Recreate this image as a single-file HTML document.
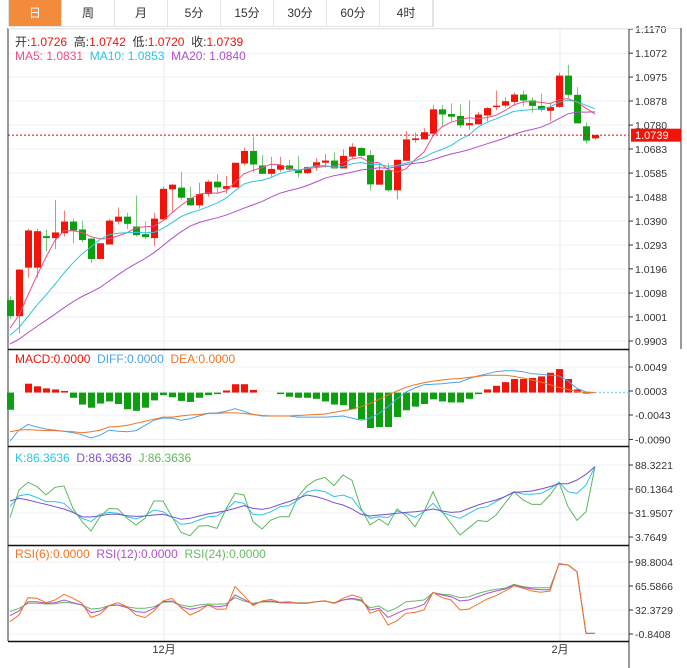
<!DOCTYPE html>
<html><head><meta charset="utf-8">
<style>
html,body{margin:0;padding:0;background:#fff;}
body{width:687px;height:668px;overflow:hidden;position:relative;font-family:"Liberation Sans","Noto Sans CJK SC",sans-serif;}
.tabs{position:absolute;left:8px;top:0;height:27px;display:flex;border:1px solid #e3e3e3;border-top:none;box-sizing:border-box;}
.tab{width:53px;height:26px;line-height:26px;text-align:center;font-size:12px;color:#333;border-right:1px solid #e3e3e3;box-sizing:border-box;}
.tab.on{background:#f38b3c;color:#fff;}
svg{position:absolute;left:0;top:0;}
</style></head><body>
<div class="tabs">
<div class="tab on">日</div>
<div class="tab">周</div>
<div class="tab">月</div>
<div class="tab">5分</div>
<div class="tab">15分</div>
<div class="tab">30分</div>
<div class="tab">60分</div>
<div class="tab">4时</div>
</div>
<svg id="chart" width="687" height="668"></svg>
<script>
const opens=[1.0069,1.0004,1.0201,1.0201,1.0329,1.0321,1.0341,1.0388,1.0356,1.0319,1.0236,1.0295,1.0388,1.0408,1.0368,1.0337,1.0321,1.0397,1.0519,1.0526,1.0484,1.0454,1.0500,1.0550,1.0521,1.0527,1.0624,1.0675,1.0616,1.0582,1.0599,1.0616,1.0597,1.0585,1.0610,1.0627,1.0636,1.0604,1.0652,1.0687,1.0658,1.0538,1.0597,1.0515,1.0635,1.0719,1.0722,1.0745,1.0844,1.0825,1.0817,1.0779,1.0783,1.0819,1.0856,1.0859,1.0874,1.0904,1.0880,1.0858,1.0838,1.0854,1.0981,1.0903,1.0775,1.0726];
const highs=[1.0085,1.0194,1.0359,1.0359,1.0355,1.0476,1.0433,1.0400,1.0392,1.0319,1.0300,1.0400,1.0446,1.0424,1.0494,1.0389,1.0424,1.0530,1.0540,1.0590,1.0530,1.0546,1.0558,1.0581,1.0574,1.0627,1.0688,1.0732,1.0658,1.0651,1.0651,1.0639,1.0654,1.0613,1.0646,1.0662,1.0668,1.0682,1.0706,1.0691,1.0678,1.0618,1.0625,1.0639,1.0756,1.0749,1.0767,1.0861,1.0861,1.0868,1.0864,1.0880,1.0833,1.0853,1.0920,1.0893,1.0912,1.0922,1.0893,1.0908,1.0872,1.0993,1.1025,1.0934,1.0791,1.0742];
const lows=[0.9992,0.9934,1.0160,1.0160,1.0267,1.0276,1.0327,1.0300,1.0304,1.0220,1.0236,1.0295,1.0376,1.0357,1.0327,1.0317,1.0288,1.0397,1.0426,1.0477,1.0452,1.0441,1.0489,1.0500,1.0502,1.0527,1.0616,1.0587,1.0582,1.0570,1.0590,1.0589,1.0567,1.0581,1.0594,1.0608,1.0604,1.0604,1.0644,1.0652,1.0515,1.0538,1.0511,1.0478,1.0635,1.0708,1.0722,1.0745,1.0775,1.0796,1.0769,1.0760,1.0783,1.0796,1.0840,1.0850,1.0858,1.0857,1.0830,1.0834,1.0796,1.0850,1.0890,1.0787,1.0705,1.0720];
const closes=[1.0004,1.0193,1.0352,1.0349,1.0321,1.0344,1.0388,1.0352,1.0313,1.0236,1.0300,1.0392,1.0408,1.0379,1.0333,1.0325,1.0400,1.0521,1.0538,1.0485,1.0454,1.0500,1.0550,1.0527,1.0532,1.0627,1.0675,1.0620,1.0582,1.0602,1.0617,1.0599,1.0585,1.0609,1.0629,1.0636,1.0604,1.0655,1.0692,1.0655,1.0539,1.0597,1.0515,1.0639,1.0722,1.0726,1.0751,1.0844,1.0823,1.0814,1.0779,1.0788,1.0823,1.0849,1.0859,1.0877,1.0904,1.0880,1.0858,1.0842,1.0853,1.0981,1.0903,1.0787,1.0717,1.0739];
const priorCloses=[0.980,0.982,0.984,0.983,0.985,0.986,0.987,0.988,0.989,0.991,0.988,0.990,0.989,0.991,0.991,0.993,0.994,0.995,0.9952];
const priceTicks=[1.1170,1.1072,1.0975,1.0878,1.0780,1.0683,1.0585,1.0488,1.0390,1.0293,1.0196,1.0098,1.0001,0.9903];
const lastPrice=1.0739;
const macdHist=[-0.0033,0,0.0017,0.0012,0.0008,0.0006,0.0003,-0.0010,-0.0023,-0.0029,-0.0021,-0.0017,-0.0022,-0.0032,-0.0035,-0.0029,-0.0015,-0.0005,-0.0009,-0.0016,-0.0018,-0.0010,-0.0005,-0.0003,0.0004,0.0016,0.0016,0.0005,0,0,-0.0003,-0.0008,-0.0010,-0.0010,-0.0012,-0.0017,-0.0023,-0.0024,-0.0032,-0.0051,-0.0068,-0.0066,-0.0066,-0.0047,-0.0034,-0.0027,-0.0022,-0.0013,-0.0017,-0.0019,-0.0019,-0.0012,-0.0003,0.0006,0.0013,0.0020,0.0026,0.0026,0.0028,0.0031,0.0038,0.0045,0.0026,0.0006,-0.0002,0];
const diffVals=[-0.0093,-0.0072,-0.0061,-0.0066,-0.0070,-0.0072,-0.0074,-0.0077,-0.0081,-0.0087,-0.0082,-0.0072,-0.0074,-0.0075,-0.0073,-0.0063,-0.0053,-0.0049,-0.0049,-0.0053,-0.0050,-0.0045,-0.0040,-0.0039,-0.0036,-0.0031,-0.0036,-0.0042,-0.0045,-0.0045,-0.0045,-0.0045,-0.0047,-0.0047,-0.0047,-0.0047,-0.0046,-0.0045,-0.0049,-0.0053,-0.0049,-0.0040,-0.0027,-0.0012,0.0001,0.0009,0.0015,0.0016,0.0017,0.0019,0.0020,0.0027,0.0032,0.0036,0.0040,0.0042,0.0042,0.0040,0.0036,0.0035,0.0033,0.0032,0.0022,0.0008,0.0001,0];
const deaVals=[-0.0075,-0.0072,-0.0071,-0.0072,-0.0073,-0.0073,-0.0074,-0.0075,-0.0077,-0.0075,-0.0072,-0.0066,-0.0065,-0.0063,-0.0059,-0.0055,-0.0051,-0.0047,-0.0047,-0.0045,-0.0043,-0.0042,-0.0040,-0.0040,-0.0039,-0.0039,-0.0040,-0.0042,-0.0044,-0.0045,-0.0045,-0.0045,-0.0044,-0.0043,-0.0042,-0.0041,-0.0038,-0.0035,-0.0032,-0.0027,-0.0021,-0.0013,-0.0005,0.0003,0.0010,0.0015,0.0019,0.0022,0.0024,0.0026,0.0027,0.0029,0.0031,0.0033,0.0033,0.0033,0.0031,0.0028,0.0024,0.0020,0.0015,0.0010,0.0006,0.0002,0,0];
const macdTicks=[0.0049,0.0003,-0.0043,-0.0090];
const kVals=[39.4,52.3,53.9,50.0,45.3,45.3,43.3,33.5,25.7,21.8,30.4,32.7,31.6,27.6,24.9,28.8,35.5,33.5,26.5,18.6,19.8,23.7,27.6,28.4,35.5,45.3,43.3,30.4,29.6,33.5,39.4,40.6,47.2,57.0,59.0,57.0,51.2,53.1,49.2,35.5,25.7,27.6,26.5,34.3,31.6,26.9,33.5,43.3,32.7,28.8,25.7,31.6,37.4,39.4,45.3,51.2,57.0,54.3,53.9,55.0,60.1,68.0,57.0,55.0,64.8,86.4];
const dVals=[46.0,49.2,47.2,44.5,42.1,39.4,36.6,32.7,27.6,27.3,28.8,30.4,30.4,28.8,28.0,28.4,29.6,30.4,27.6,24.5,25.7,28.4,30.8,32.7,34.7,37.4,40.6,37.4,36.2,38.2,42.1,45.3,49.2,53.1,51.2,48.0,44.1,41.3,36.6,30.4,28.4,29.6,30.4,31.6,32.7,33.5,34.7,36.6,34.3,32.7,33.5,37.4,41.3,44.5,47.2,51.2,56.2,57.0,57.8,60.1,62.9,66.4,66.4,70.7,77.4,86.4];
const jVals=[26.5,59.0,68.0,62.9,53.1,62.1,63.7,37.4,21.8,10.8,27.6,37.4,36.6,25.7,17.9,25.7,46.0,46.0,27.6,9.2,5.3,16.7,17.1,13.9,36.6,55.0,53.1,21.8,13.2,23.7,27.6,27.6,51.2,63.9,70.7,73.8,64.1,76.6,70.3,37.4,17.9,24.9,17.9,36.6,28.8,15.9,33.5,57.0,33.5,19.8,6.1,14.7,23.3,21.8,29.6,43.3,57.0,47.2,42.1,42.1,53.1,68.0,39.4,23.3,33.5,86.4];
const kdjTicks=[88.3221,60.1364,31.9507,3.7649];
const rsi6=[16.2,25.5,49.4,48.5,42.5,46.2,54.1,48.5,41.6,22.2,26.4,38.4,42.5,37.0,25.5,21.8,31.0,44.8,48.5,35.6,25.5,31.0,39.3,33.3,33.8,64.7,52.2,38.4,44.8,47.1,43.0,43.9,41.6,41.6,43.9,45.3,41.6,48.5,53.1,49.4,27.8,32.4,11.6,17.6,27.8,29.1,32.4,56.8,49.4,46.2,32.4,33.8,40.7,47.6,52.2,58.7,66.0,62.4,58.7,56.8,58.7,96.9,94.7,85.4,0,0];
const rsi12=[24.5,31.0,43.9,43.9,41.6,42.5,46.2,42.5,39.3,28.7,31.0,38.4,39.3,35.6,30.1,29.1,34.7,43.9,44.8,37.0,33.3,35.6,39.3,37.0,38.4,53.1,47.1,40.2,43.9,44.8,42.5,42.5,41.6,41.6,43.9,44.8,41.6,46.2,48.5,46.2,32.4,34.7,22.2,27.8,33.3,35.6,40.2,56.4,53.1,50.8,44.8,46.2,50.8,55.4,58.7,61.4,67.0,63.7,61.4,60.5,60.5,96.0,94.7,85.4,0,0];
const rsi24=[30.1,34.7,41.6,41.6,40.7,41.1,43.0,41.6,39.3,33.8,34.7,38.4,39.3,37.0,34.7,34.7,37.0,43.0,43.9,39.3,37.0,39.3,40.7,40.2,41.1,49.4,44.8,41.6,43.4,43.9,42.5,42.5,42.5,42.5,43.9,44.8,42.5,46.2,47.6,44.8,35.6,37.9,30.1,35.6,43.9,44.8,46.2,56.4,54.1,53.1,49.4,50.8,55.4,58.7,61.0,62.4,67.9,64.7,63.3,63.3,63.3,96.0,94.7,85.4,0,0];
const rsiTicks=[98.8004,65.5866,32.3729,-0.8408];
const monthLabels=["12月","2月"];
const monthIdx=[17,61];

const svg=document.getElementById('chart');
const NS='http://www.w3.org/2000/svg';
function mk(tag,attrs,parent){const e=document.createElementNS(NS,tag);for(const k in attrs)e.setAttribute(k,attrs[k]);(parent||svg).appendChild(e);return e;}
const L=8,R=629;
const xAt=i=>10+9*i;
const yP=v=>341-(v-0.9903)*2462;
const yM=v=>391-(v-0.0003)*5217;
const yK=v=>537-(v-3.7649)*24/28.1857;
const yR=v=>634-(v+0.8408)*24/33.2138;

// grids
function grid(ticks,f,name){ticks.forEach(t=>{const l=mk('line',{x1:L,x2:R,y1:f(t),y2:f(t),stroke:'#edf1f3','stroke-width':1});


const tm=mk('line',{x1:R,x2:R+4,y1:f(t),y2:f(t),stroke:'#333','stroke-width':1});


const tx=mk('text',{x:R+6,y:f(t)+4,'font-size':'10.5',fill:'#333'});tx.textContent=t.toFixed(4);

});}
grid(priceTicks,yP,'price');grid(macdTicks,yM,'macd');grid(kdjTicks,yK,'kdj');grid(rsiTicks,yR,'rsi');
monthIdx.forEach((mi,k)=>{const x=xAt(mi)+1;const v=mk('line',{x1:x,x2:x,y1:29,y2:641,stroke:'#e6eef0','stroke-width':1});


const t=mk('text',{x:x,y:653,'font-size':'11',fill:'#333','text-anchor':'middle'});t.textContent=monthLabels[k];

});
// frame
[[L,28,L,641],[R,28,R,668],[L,28.5,681,28.5],[681,28,681,349]].forEach(a=>{const l=mk('line',{x1:a[0],y1:a[1],x2:a[2],y2:a[3],stroke:a[1]==28.5?'#e6e6e6':'#333','stroke-width':1});

});
[349.5,446.5,545.5,641.5].forEach(y=>{const l=mk('line',{x1:L,x2:R,y1:y,y2:y,stroke:'#111','stroke-width':1.5});

});

// candles
const RED='#f0140a',GREEN='#0d9f10';
for(let i=0;i<closes.length;i++){
 const up=closes[i]>=opens[i];const c=up?RED:GREEN;const x=xAt(i);
 const w=mk('line',{x1:x+0.5,x2:x+0.5,y1:yP(highs[i]),y2:yP(lows[i]),stroke:c,'stroke-opacity':0.55,'stroke-width':1});
 
 
 const t=Math.min(yP(opens[i]),yP(closes[i]));const h=Math.max(1.5,Math.abs(yP(opens[i])-yP(closes[i])));
 const b=mk('rect',{x:x-3,y:t,width:7,height:h,fill:c});
 
 
}
// MAs
const all=priorCloses.concat(closes);
function ma(n){return closes.map((_,i)=>{const j=i+priorCloses.length;let s=0,c=0;for(let k=Math.max(0,j-n+1);k<=j;k++){s+=all[k];c++;}return s/c;});}
function line(vals,f,color,name,w){const d=vals.map((v,i)=>(i?'L':'M')+xAt(i).toFixed(1)+' '+f(v).toFixed(1)).join(' ');
 const p=mk('path',{d:d,fill:'none',stroke:color,'stroke-width':w||1});
 
 return p;}
line(ma(5),yP,'#ee4f80','ma5-line');line(ma(10),yP,'#2fc5de','ma10-line');line(ma(20),yP,'#b04fcc','ma20-line');
// last price
const lp=mk('line',{x1:L,x2:R,y1:yP(lastPrice),y2:yP(lastPrice),stroke:'#e00','stroke-width':1,'stroke-dasharray':'2,2'});


const lb=mk('rect',{x:631,y:yP(lastPrice)-6.5,width:50,height:13,fill:'#f0140a'});


const lt=mk('text',{x:635,y:yP(lastPrice)+4,'font-size':'11',fill:'#fff'});lt.textContent=lastPrice.toFixed(4);



// MACD
macdHist.forEach((v,i)=>{if(Math.abs(v)<0.00005)return;const y0=yM(0),y1=yM(v);
 const r=mk('rect',{x:xAt(i)-3,y:Math.min(y0,y1),width:7,height:Math.abs(y1-y0),fill:v>0?RED:GREEN});
 
 });
line(diffVals,yM,'#4aa3ee','diff-line');line(deaVals,yM,'#f4731f','dea-line');
const zl=mk('line',{x1:xAt(65),x2:R,y1:yM(0),y2:yM(0),stroke:'#7cc8f0','stroke-dasharray':'2,2'});


// KDJ
line(jVals,yK,'#5cb85c','j-line');line(kVals,yK,'#2fc5de','k-line');line(dVals,yK,'#7a4fd0','d-line');
// RSI
line(rsi24,yR,'#66bb66','rsi24-line');line(rsi12,yR,'#b04fcc','rsi12-line');line(rsi6,yR,'#f5731f','rsi6-line');

// legends
function legend(y,items,name){const t=mk('text',{x:15,y:y,'font-size':'12'});
 items.forEach(it=>{const s=mk('tspan',{fill:it[1]},t);s.textContent=it[0];});}
legend(46,[['开:','#333'],['1.0726  ','#f0140a'],['高:','#333'],['1.0742  ','#f0140a'],['低:','#333'],['1.0720  ','#f0140a'],['收:','#333'],['1.0739','#f0140a']],'ohlc-legend');
legend(60,[['MA5: 1.0831  ','#ee4f80'],['MA10: 1.0853  ','#2fc5de'],['MA20: 1.0840','#b04fcc']],'ma-legend');
legend(363,[['MACD:0.0000  ','#f0140a'],['DIFF:0.0000  ','#4aa3ee'],['DEA:0.0000','#f4731f']],'macd-legend');
legend(462,[['K:86.3636  ','#2fc5de'],['D:86.3636  ','#7a4fd0'],['J:86.3636','#5cb85c']],'kdj-legend');
legend(558,[['RSI(6):0.0000  ','#f5731f'],['RSI(12):0.0000  ','#b04fcc'],['RSI(24):0.0000','#66bb66']],'rsi-legend');
document.querySelectorAll('tspan').forEach(s=>{s.setAttribute('xml:space','preserve');});
document.querySelectorAll('text').forEach(s=>{s.style.whiteSpace='pre';});
</script>
</body></html>
